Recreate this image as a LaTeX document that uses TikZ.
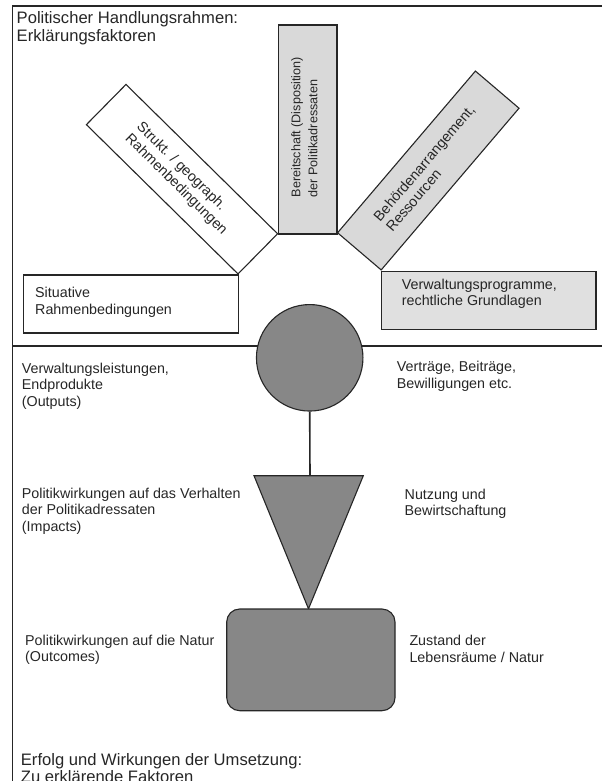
\documentclass[tikz,border=0pt]{standalone}
\usepackage{fontspec}
\setmainfont{Liberation Sans}
\usetikzlibrary{calc}

\begin{document}
\begin{tikzpicture}[
  x=1pt, y=-1pt,
  frame/.style={draw=black!85, line width=1.3pt},
  factor/.style={draw=black!85, line width=1.1pt, fill=#1, inner sep=0pt,
                 minimum width=212pt, minimum height=57pt},
  factor/.default=white,
  txt/.style={font=\fontsize{14.3}{16.3}\selectfont, text=black!85, inner sep=0pt, align=left},
  note/.style={txt, anchor=north west},
  head/.style={font=\fontsize{16.6}{17.4}\selectfont, text=black!85, inner sep=0pt,
               align=left, anchor=north west},
  core/.style={draw=black!85, line width=1.1pt, fill=black!47, inner sep=0pt},
  link/.style={draw=black!85, line width=1.6pt},
]
\useasboundingbox (0,0) rectangle (602,781);
\clip (0,0) rectangle (602,781);

% ---------- Frame ----------
\coordinate (tl) at (12.3,6);
\coordinate (tr) at (602,6);
\coordinate (bl) at (12.3,781);
\coordinate (divl) at (12.3,346);
\coordinate (divr) at (602,346);
\draw[frame] (tr) -- (tl) -- (bl);
\draw[frame] (divl) -- (divr);

% ---------- Explaining factors ----------
\node[factor=black!15, rotate=90, minimum width=209pt, minimum height=58.5pt] (bereit) at (307.75,129.5) {};
\node[factor, rotate=-44.56, minimum width=212.8pt, minimum height=56.4pt] (strukt) at (182,179.2) {};
\node[factor=black!15, rotate=49.56, minimum width=212.5pt, minimum height=57.3pt] (behoerde) at (428.3,170.5) {};
\node[factor, minimum width=215pt, minimum height=58pt] (situativ) at (130.8,304) {};
\node[factor=black!12, minimum width=214.3pt, minimum height=57.6pt] (programme) at (488.85,300.5) {};

\node[txt, font=\fontsize{12.6}{17}\selectfont, rotate=90, anchor=west] (bereittxt)
  at ($(bereit.west)!37pt!(bereit.east) + (-3.5,0)$)
  {Bereitschaft (Disposition)\\der Politikadressaten};
\node[txt, rotate=-44.56, anchor=west] (strukttxt) at ($(strukt.west)!38pt!(strukt.east)$)
  {Strukt. / geograph.\\Rahmenbedingungen};
\node[txt, rotate=49.56, anchor=west] (behoerdetxt) at ($(behoerde.west)!36pt!(behoerde.east)$)
  {Behördenarrangement,\\Ressourcen};
\node[note] (situativtxt) at (35,287.4) {Situative\\Rahmenbedingungen};
\node[note] (programmetxt) at (401.7,278.7) {Verwaltungsprogramme,\\rechtliche Grundlagen};

% ---------- Outputs, impacts, outcomes ----------
\node[core, circle, minimum size=106.5pt] (outputs) at (309.7,357.8) {};
\coordinate (tril) at (254,475.7);
\coordinate (trir) at (363.3,475.7);
\coordinate (tritip) at (308.5,608.8);
\coordinate (tritop) at (310,475.7);
\draw[link] (outputs.south) -- (tritop);
\draw[core] (tril) -- (trir) -- (tritip) -- cycle;
\node[core, rounded corners=13pt, minimum width=168.3pt, minimum height=101.7pt] (outcomes) at (310.85,659.85) {};

% ---------- Labels ----------
\node[head] (title) at (16.5,11.4) {Politischer Handlungsrahmen:\\Erklärungsfaktoren};
\node[note] (outputsl) at (21.7,363) {Verwaltungsleistungen,\\Endprodukte\\(Outputs)};
\node[note] (outputsr) at (396.7,361.4) {Verträge, Beiträge,\\Bewilligungen etc.};
\node[note] (impactsl) at (21.7,488) {Politikwirkungen auf das Verhalten\\der Politikadressaten\\(Impacts)};
\node[note] (impactsr) at (404.5,489) {Nutzung und\\Bewirtschaftung};
\node[note] (outcomesl) at (25,634.7) {Politikwirkungen auf die Natur\\(Outcomes)};
\node[note] (outcomesr) at (409.3,635.4) {Zustand der\\Lebensräume / Natur};
\node[head] (footer) at (20.7,753) {Erfolg und Wirkungen der Umsetzung:\\Zu erklärende Faktoren};

\end{tikzpicture}
\end{document}
